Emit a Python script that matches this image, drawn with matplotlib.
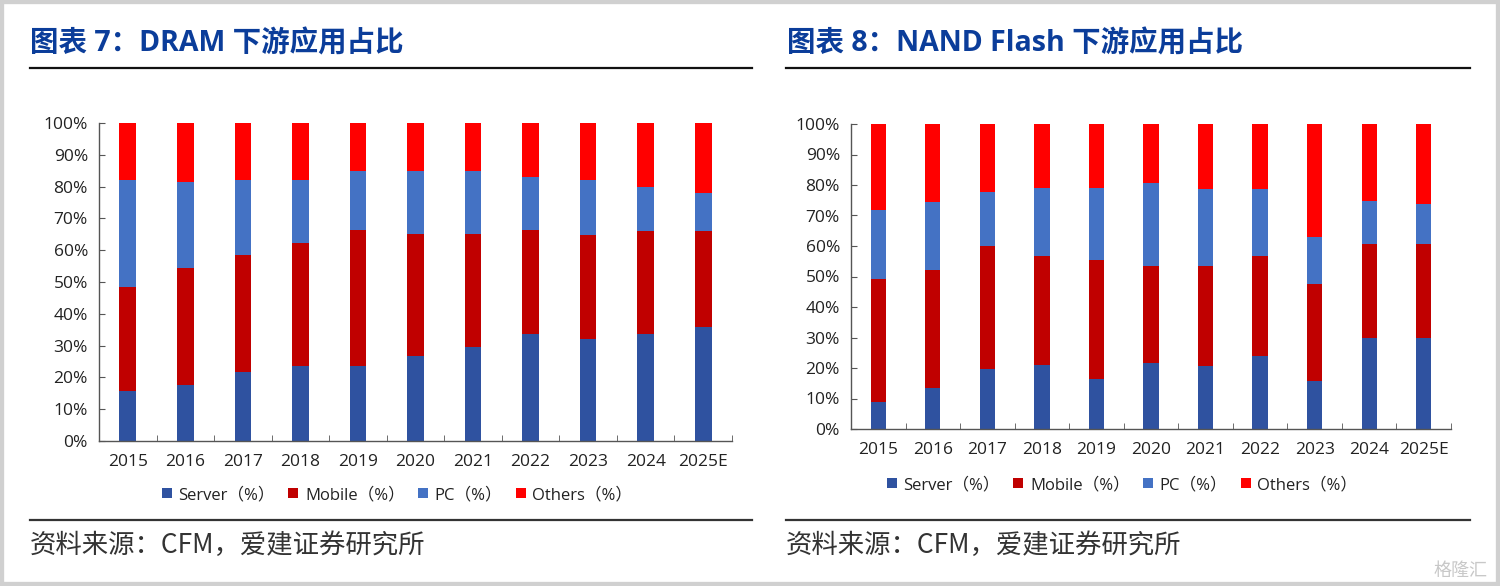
import numpy as np
import matplotlib
matplotlib.use("Agg")
import matplotlib.pyplot as plt
from matplotlib.patches import Rectangle
from matplotlib.lines import Line2D

plt.rcParams['font.family'] = ['Open Sans', 'Noto Sans CJK SC', 'DejaVu Sans']

# === Data (share of downstream applications, %) ===
years = ['2015', '2016', '2017', '2018', '2019', '2020', '2021', '2022', '2023', '2024', '2025E']
series_names = ['Server（%）', 'Mobile（%）', 'PC（%）', 'Others（%）']

dram_server = [15.7, 17.6, 21.8, 23.7, 23.7, 26.6, 29.7, 33.5, 32.0, 33.8, 35.8]
dram_mobile = [32.8, 36.7, 36.7, 38.6, 42.5, 38.6, 35.5, 32.7, 32.9, 32.1, 30.1]
dram_pc = [33.7, 27.0, 23.7, 19.9, 18.8, 19.8, 19.8, 16.9, 17.3, 14.0, 12.1]
dram_others = [17.8, 18.7, 17.8, 17.8, 15.0, 15.0, 15.0, 16.9, 17.8, 20.1, 22.0]

nand_server = [9.0, 13.3, 19.6, 20.9, 16.4, 21.8, 20.6, 23.8, 15.8, 29.8, 29.8]
nand_mobile = [40.2, 38.9, 40.3, 35.8, 39.0, 31.7, 32.9, 32.8, 31.9, 30.8, 30.8]
nand_pc = [22.6, 22.3, 17.7, 22.2, 23.5, 27.1, 25.3, 22.2, 15.1, 14.2, 13.1]
nand_others = [28.2, 25.5, 22.4, 21.1, 21.1, 19.4, 21.2, 21.2, 37.2, 25.2, 26.3]

colors = ['#2F52A0', '#C00000', '#4472C4', '#FF0000']
title_color = '#0B3D9A'

W, H = 1500, 586
fig = plt.figure(figsize=(W / 100, H / 100), dpi=100)


def px(x0, y_top, w, h):
    # pixel box (from top-left) -> figure fraction
    return [x0 / W, 1 - (y_top + h) / H, w / W, h / H]


def stacked(ax, parts, width):
    x = np.arange(len(years))
    bottom = np.zeros(len(years))
    for vals, c, name in zip(parts, colors, series_names):
        ax.bar(x, vals, width, bottom=bottom, color=c, label=name, linewidth=0)
        bottom += np.array(vals)
    ax.set_xlim(-0.5, len(years) - 0.5)
    ax.set_ylim(0, 100)
    ax.set_yticks(np.arange(0, 101, 10))
    ax.set_yticklabels([f'{v}%' for v in range(0, 101, 10)])
    ax.set_xticks(x)
    ax.set_xticklabels(years)
    ax.set_xticks(np.arange(-0.5, len(years)), minor=True)
    ax.tick_params(axis='x', which='major', length=0, pad=9, labelsize=12.5, colors='#222222')
    ax.tick_params(axis='x', which='minor', direction='in', length=4, color='#555555')
    ax.tick_params(axis='y', direction='in', length=4, pad=8, labelsize=12.5,
                   colors='#222222')
    ax.tick_params(axis='y', color='#555555')
    for s in ['top', 'right']:
        ax.spines[s].set_visible(False)
    for s in ['left', 'bottom']:
        ax.spines[s].set_color('#555555')
        ax.spines[s].set_linewidth(1.0)


# === Left chart: DRAM ===
ax1 = fig.add_axes(px(99, 123, 633, 318))
stacked(ax1, [dram_server, dram_mobile, dram_pc, dram_others], 0.29)

# === Right chart: NAND Flash ===
ax2 = fig.add_axes(px(851, 124, 600, 305))
stacked(ax2, [nand_server, nand_mobile, nand_pc, nand_others], 0.28)

for ax, cx, cy in [(ax1, 397, 495), (ax2, 1122, 485)]:
    h, l = ax.get_legend_handles_labels()
    fig.legend(h, l, loc='center', bbox_to_anchor=(cx / W, 1 - cy / H), ncol=4,
               frameon=False, fontsize=12, handlelength=0.6, handleheight=0.6,
               handletextpad=0.4, columnspacing=0.8, labelcolor='#222222')

# === Titles, rules and source ===
fig.text(30 / W, 1 - 44 / H, '图表 7：DRAM 下游应用占比', fontsize=20.5, fontweight='bold',
         color=title_color, va='center', ha='left',
         family=['Open Sans', 'Noto Sans CJK SC'])
fig.text(787 / W, 1 - 44 / H, '图表 8：NAND Flash 下游应用占比', fontsize=20.5,
         fontweight='bold', color=title_color, va='center', ha='left',
         family=['Open Sans', 'Noto Sans CJK SC'])

for x0, x1 in [(30, 752), (786, 1470)]:
    fig.add_artist(Line2D([x0 / W, x1 / W], [1 - 68 / H] * 2, color='#111111', lw=1.6))
    fig.add_artist(Line2D([x0 / W, x1 / W], [1 - 520 / H] * 2, color='#333333', lw=1.6))

for x0 in [30, 786]:
    fig.text(x0 / W, 1 - 545 / H, '资料来源：CFM，爱建证券研究所', fontsize=19,
             color='#333333', va='center', ha='left',
             family=['Noto Sans CJK SC', 'DejaVu Sans'])

# watermark
fig.text(1488 / W, 1 - 571 / H, '格隆汇', fontsize=13, color='#C8C8C8', va='center',
         ha='right', family=['Noto Sans CJK SC'])

# outer gray frame
fig.add_artist(Rectangle((0, 0), 1, 1, transform=fig.transFigure, fill=False,
                         edgecolor='#D0D0D0', lw=6))

fig.savefig('out.png', dpi=100)
